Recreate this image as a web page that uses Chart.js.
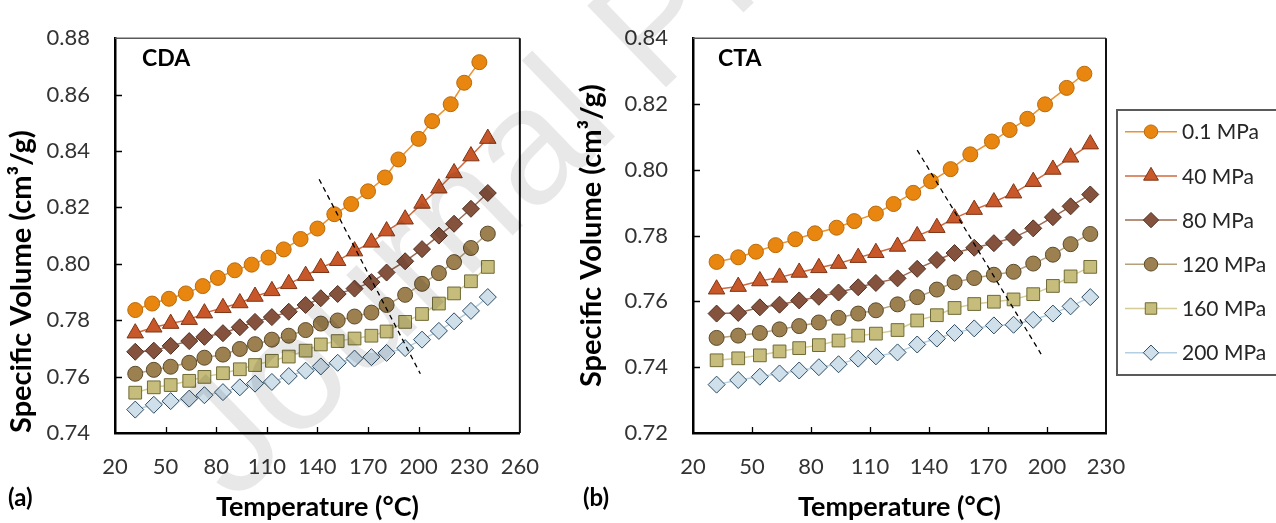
<!DOCTYPE html>
<html>
<head>
<meta charset="utf-8">
<script src="https://cdn.jsdelivr.net/npm/chart.js@4.4.1/dist/chart.umd.min.js"></script>
<style>
  html, body { margin: 0; padding: 0; background: #fff; }
  body { width: 1276px; height: 523px; position: relative; overflow: hidden; font-family: Lato, "Open Sans", sans-serif; }
  .panel { position: absolute; top: 0; height: 523px; }
  #panelA { left: 0; width: 560px; }
  #panelB { left: 570px; width: 706px; }
  .tag { position: absolute; font-weight: bold; font-size: 24px; color: #000; line-height: 1; }
  .wm { position: absolute; left: 129px; top: 396px; font: 165px "Liberation Sans", sans-serif; color: rgba(0,0,0,0.09);
        transform-origin: 0 0; transform: rotate(-44deg); white-space: nowrap; pointer-events: none; line-height: 1.15; }
</style>
</head>
<body>
<div class="panel" id="panelA"><canvas id="chartA"></canvas></div>
<div class="panel" id="panelB"><canvas id="chartB"></canvas></div>
<div class="tag" style="left:142px; top:46px; font-size:23px;">CDA</div>
<div class="tag" style="left:718px; top:46px; font-size:23px;">CTA</div>
<div class="tag" style="left:8px; top:485px;">(a)</div>
<div class="tag" style="left:583px; top:485px;">(b)</div>
<div class="wm">Journal Pre-proof</div>

<script>
// temperatures (°C)
const tempA01 = [32, 42, 52, 62, 72, 81, 91, 101, 111, 120, 130, 140, 150, 160, 170, 180, 188, 200, 208, 219, 227, 236];
const tempA = [32, 43, 53, 64, 73, 84, 94, 103, 113, 123, 133, 142, 152, 162, 172, 181, 192, 202, 212, 221, 231, 241];
const tempB01 = [32, 43, 52, 62, 72, 82, 93, 102, 113, 122, 132, 141, 151, 161, 172, 181, 190, 199, 210, 219];
const tempB = [32, 43, 54, 64, 74, 84, 94, 104, 113, 124, 134, 144, 153, 163, 173, 183, 193, 203, 212, 222];

// specific volume (cm3/g), CDA
const cda01 = [0.7836, 0.7859, 0.7876, 0.7895, 0.7921, 0.7950, 0.7977, 0.7997, 0.8022, 0.8051, 0.8088, 0.8125, 0.8176, 0.8212, 0.8257, 0.8306, 0.8370, 0.8443, 0.8506, 0.8566, 0.8642, 0.8715];
const cda40 = [0.7754, 0.7775, 0.7788, 0.7802, 0.7825, 0.7844, 0.7861, 0.7884, 0.7904, 0.7929, 0.7958, 0.7986, 0.8011, 0.8045, 0.8076, 0.8116, 0.8158, 0.8214, 0.8268, 0.8322, 0.8382, 0.8444];
const cda80 = [0.7688, 0.7692, 0.7709, 0.7726, 0.7741, 0.7754, 0.7775, 0.7794, 0.7811, 0.7830, 0.7854, 0.7878, 0.7893, 0.7912, 0.7935, 0.7969, 0.8009, 0.8052, 0.8100, 0.8142, 0.8195, 0.8251];
const cda120 = [0.7610, 0.7624, 0.7635, 0.7649, 0.7667, 0.7678, 0.7698, 0.7715, 0.7731, 0.7745, 0.7765, 0.7788, 0.7799, 0.7813, 0.7827, 0.7854, 0.7890, 0.7929, 0.7967, 0.8006, 0.8056, 0.8107];
const cda160 = [0.7543, 0.7562, 0.7570, 0.7585, 0.7599, 0.7612, 0.7626, 0.7641, 0.7656, 0.7671, 0.7692, 0.7714, 0.7726, 0.7735, 0.7745, 0.7760, 0.7794, 0.7822, 0.7859, 0.7895, 0.7938, 0.7989];
const cda200 = [0.7483, 0.7500, 0.7513, 0.7522, 0.7534, 0.7545, 0.7562, 0.7575, 0.7581, 0.7602, 0.7621, 0.7636, 0.7649, 0.7664, 0.7669, 0.7684, 0.7701, 0.7731, 0.7762, 0.7796, 0.7833, 0.7882];

// specific volume (cm3/g), CTA
const cta01 = [0.7720, 0.7734, 0.7751, 0.7771, 0.7789, 0.7807, 0.7824, 0.7844, 0.7867, 0.7896, 0.7930, 0.7965, 0.8002, 0.8047, 0.8086, 0.8121, 0.8155, 0.8199, 0.8249, 0.8292];
const cta40 = [0.7637, 0.7645, 0.7662, 0.7673, 0.7688, 0.7702, 0.7715, 0.7733, 0.7748, 0.7767, 0.7799, 0.7824, 0.7853, 0.7879, 0.7902, 0.7929, 0.7964, 0.8001, 0.8038, 0.8078];
const cta80 = [0.7563, 0.7565, 0.7582, 0.7590, 0.7603, 0.7614, 0.7627, 0.7643, 0.7656, 0.7670, 0.7699, 0.7726, 0.7747, 0.7763, 0.7777, 0.7794, 0.7822, 0.7856, 0.7889, 0.7925];
const cta120 = [0.7489, 0.7496, 0.7504, 0.7515, 0.7525, 0.7536, 0.7550, 0.7563, 0.7573, 0.7591, 0.7613, 0.7636, 0.7658, 0.7671, 0.7681, 0.7690, 0.7715, 0.7742, 0.7774, 0.7805];
const cta160 = [0.7421, 0.7427, 0.7436, 0.7448, 0.7458, 0.7467, 0.7481, 0.7496, 0.7502, 0.7513, 0.7542, 0.7558, 0.7580, 0.7592, 0.7599, 0.7606, 0.7622, 0.7647, 0.7676, 0.7705];
const cta200 = [0.7347, 0.7361, 0.7371, 0.7381, 0.7390, 0.7400, 0.7409, 0.7426, 0.7433, 0.7445, 0.7469, 0.7487, 0.7504, 0.7518, 0.7527, 0.7529, 0.7544, 0.7563, 0.7585, 0.7613];

// dashed guide lines
const dashAx = [141, 201];
const dashAy = [0.830, 0.761];
const dashBx = [134, 197];
const dashBy = [0.806, 0.744];

const pressures = ["0.1 MPa", "40 MPa", "80 MPa", "120 MPa", "160 MPa", "200 MPa"];

const styles = [
  { pointStyle: "circle", radius: 7.5, bg: "#E8860F", border: "#B96B0B", line: "#EB9330" },
  { pointStyle: "triangle", radius: 9.5, bg: "#C8582A", border: "#7E3515", line: "#D2683C" },
  { pointStyle: "rectRot", radius: 8.5, bg: "#85523D", border: "#4E2E20", line: "#9B6B55" },
  { pointStyle: "circle", radius: 7.5, bg: "#9C8050", border: "#5C4A2C", line: "#B5A07A" },
  { pointStyle: "rect", radius: 9, bg: "#C6BC7C", border: "#6F6A36", line: "#D4CC94" },
  { pointStyle: "rectRot", radius: 8.5, bg: "#CFE0EB", border: "#2B4A62", line: "#B5CFE2" },
];

const FONT = "Lato, 'Open Sans', sans-serif";

function pts(xs, ys) {
  return xs.map((x, i) => ({ x: x, y: ys[i] }));
}

function buildDatasets(temps, series, dx, dy) {
  const sets = series.map((ys, i) => ({
    label: pressures[i],
    data: pts(temps[i], ys),
    borderColor: styles[i].line,
    borderWidth: 1.5,
    backgroundColor: styles[i].bg,
    pointStyle: styles[i].pointStyle,
    pointRadius: styles[i].radius,
    pointBackgroundColor: styles[i].bg,
    pointBorderColor: styles[i].border,
    pointBorderWidth: 1,
    order: 6 - i,
  }));
  sets.push({
    label: "guide",
    data: pts(dx, dy),
    borderColor: "#000",
    borderWidth: 1.3,
    borderDash: [5, 4],
    pointRadius: 0,
    order: -1,
  });
  return sets;
}

const frame = {
  id: "frame",
  beforeDatasetsDraw(chart) {
    const { ctx, chartArea: a, scales } = chart;
    ctx.save();
    ctx.strokeStyle = "#000";
    ctx.lineWidth = 1.3;
    ctx.beginPath();
    scales.x.ticks.forEach((t) => {
      if (t.value <= scales.x.min || t.value >= scales.x.max) return;
      const px = Math.round(scales.x.getPixelForValue(t.value)) + 0.5;
      ctx.moveTo(px, a.bottom);
      ctx.lineTo(px, a.bottom - 6);
    });
    scales.y.ticks.forEach((t) => {
      if (t.value <= scales.y.min + 1e-9 || t.value >= scales.y.max - 1e-9) return;
      const py = Math.round(scales.y.getPixelForValue(t.value)) + 0.5;
      ctx.moveTo(a.left, py);
      ctx.lineTo(a.left + 7, py);
    });
    ctx.stroke();
    ctx.restore();
  },
  afterDraw(chart) {
    const { ctx, chartArea: a } = chart;
    ctx.save();
    ctx.lineWidth = 1.5;
    ctx.strokeStyle = "#5a5a5a";
    ctx.beginPath();
    ctx.moveTo(a.left, a.top);
    ctx.lineTo(a.right, a.top);
    ctx.stroke();
    ctx.lineWidth = 2;
    ctx.strokeStyle = "#111";
    ctx.beginPath();
    ctx.moveTo(a.right, a.top);
    ctx.lineTo(a.right, a.bottom);
    ctx.stroke();
    ctx.restore();
  },
};

const sideLegend = {
  id: "sideLegend",
  afterDraw(chart) {
    const { ctx } = chart;
    const left = 547, top = 110, bottom = 375, right = 720;
    ctx.save();
    ctx.strokeStyle = "#5a5a5a";
    ctx.lineWidth = 2;
    ctx.strokeRect(left, top, right - left, bottom - top);
    ctx.font = "21px " + FONT;
    ctx.textBaseline = "middle";
    pressures.forEach((name, i) => {
      const y = 131.7 + i * 44.2;
      ctx.strokeStyle = styles[i].line;
      ctx.lineWidth = 1.5;
      ctx.beginPath();
      ctx.moveTo(555, y);
      ctx.lineTo(607, y);
      ctx.stroke();
      ctx.fillStyle = styles[i].bg;
      ctx.strokeStyle = styles[i].border;
      ctx.lineWidth = 1;
      Chart.helpers.drawPoint(ctx, { pointStyle: styles[i].pointStyle, radius: styles[i].radius * 0.9, borderWidth: 1 }, 581, y);
      ctx.fillStyle = "#262626";
      ctx.fillText(name, 612, y + 1);
    });
    ctx.restore();
  },
};

function makeOptions(xMax, yMin, yMax, yWidth, padTop, padRight, titleAlign) {
  return {
    responsive: true,
    maintainAspectRatio: false,
    animation: false,
    layout: { padding: { top: padTop, right: padRight, left: 0, bottom: 0 } },
    plugins: { legend: { display: false }, tooltip: { enabled: false } },
    scales: {
      x: {
        type: "linear",
        min: 20,
        max: xMax,
        grid: { display: false, drawTicks: false },
        border: { display: true, color: "#000", width: 2.5 },
        ticks: {
          stepSize: 30,
          padding: 21,
          color: "#333",
          font: { family: FONT, size: 22 },
        },
        title: {
          display: true,
          text: "Temperature (°C)",
          color: "#000",
          font: { family: FONT, size: 27, weight: "bold" },
          padding: { top: 0, bottom: 0 },
        },
        afterFit(scale) { scale.height = 90; },
      },
      y: {
        min: yMin,
        max: yMax,
        grid: { display: false, drawTicks: false },
        border: { display: true, color: "#000", width: 2.5 },
        ticks: {
          stepSize: 0.02,
          padding: 25,
          color: "#333",
          font: { family: FONT, size: 22 },
          callback: (v) => v.toFixed(2),
        },
        title: {
          display: true,
          text: "Specific Volume (cm³/g)",
          align: titleAlign,
          color: "#000",
          font: { family: FONT, size: 29, weight: "bold" },
          padding: { top: 4, bottom: 0 },
        },
        afterFit(scale) { scale.width = yWidth; },
      },
    },
  };
}

new Chart(document.getElementById("chartA"), {
  type: "line",
  data: {
    datasets: buildDatasets(
      [tempA01, tempA, tempA, tempA, tempA, tempA],
      [cda01, cda40, cda80, cda120, cda160, cda200],
      dashAx, dashAy
    ),
  },
  options: makeOptions(260, 0.74, 0.88, 115, 20, 26, "start"),
  plugins: [frame],
});

new Chart(document.getElementById("chartB"), {
  type: "line",
  data: {
    datasets: buildDatasets(
      [tempB01, tempB, tempB, tempB, tempB, tempB],
      [cta01, cta40, cta80, cta120, cta160, cta200],
      dashBx, dashBy
    ),
  },
  options: makeOptions(230, 0.72, 0.84, 123, 16, 170, "center"),
  plugins: [frame, sideLegend],
});
</script>
</body>
</html>
